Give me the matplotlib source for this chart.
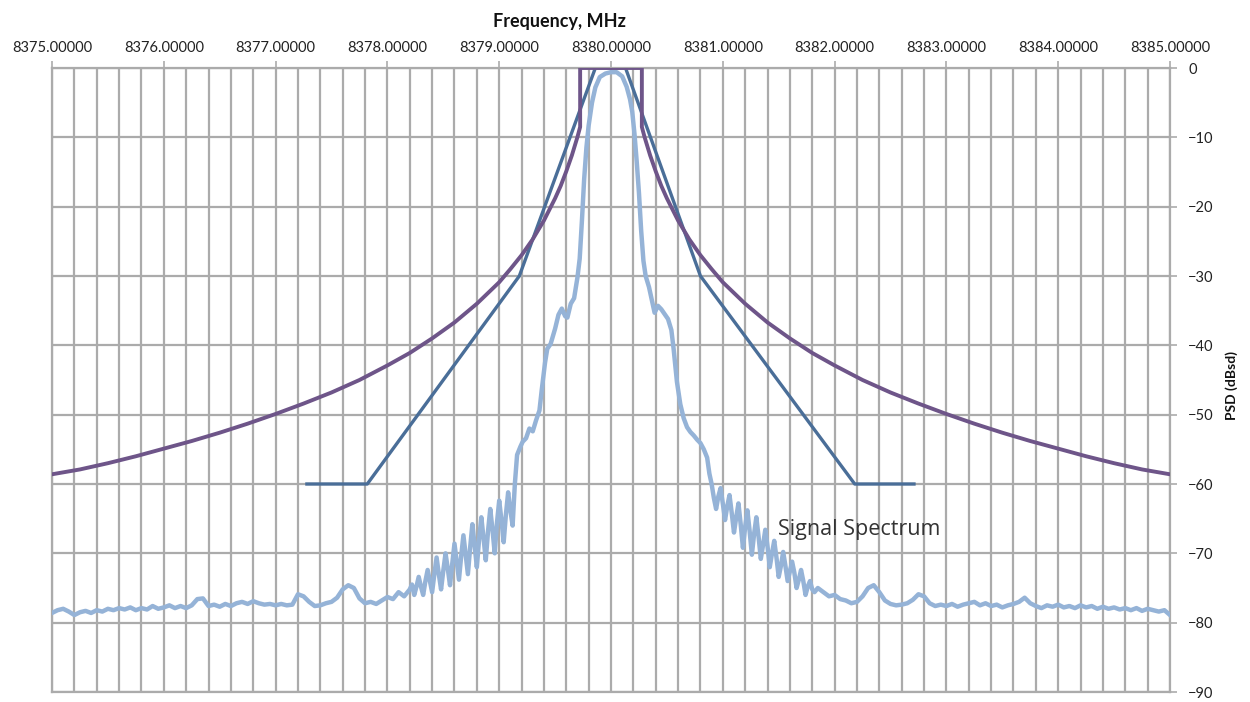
import numpy as np
import matplotlib
matplotlib.use("Agg")
import matplotlib.pyplot as plt
from matplotlib.ticker import MultipleLocator, FormatStrFormatter

plt.rcParams['font.family'] = ['Lato', 'DejaVu Sans']

# ---------------- data ----------------
center_freq = 8380.0

# purple spectral mask (one side, offsets from centre in MHz)
purple_offsets = [0.276, 0.276, 0.30, 0.35, 0.40, 0.45, 0.50, 0.60, 0.70, 0.80, 0.90, 1.00,
                  1.20, 1.40, 1.60, 1.80, 2.00, 2.25, 2.50, 2.75, 3.00, 3.25, 3.50,
                  3.75, 4.00, 4.25, 4.50, 4.75, 5.00]
purple_db = [0.0, -8.5, -9.95, -12.6, -14.9, -17.0, -18.8, -22.0, -24.7, -27.0, -29.0, -30.9,
             -34.0, -36.7, -39.0, -41.1, -42.9, -45.0, -46.8, -48.4, -49.9, -51.3, -52.6,
             -53.8, -54.9, -56.0, -57.0, -57.9, -58.6]

# dark blue mask
blue_offsets = [-2.72, -2.18, -0.82, -0.14, 0.13, 0.80, 2.18, 2.71]
blue_db = [-60, -60, -30, 0, 0, -30, -60, -60]

# signal spectrum
sigA_freq = np.round(np.arange(8375.00, 8378.201, 0.05), 3)
sigA_db = [-78.6, -78.2, -78.0, -78.4, -78.9, -78.5, -78.3, -78.6, -78.2, -78.4,
           -78.0, -78.2, -77.9, -78.1, -77.8, -78.2, -77.9, -78.1, -77.6, -78.0,
           -77.8, -77.5, -77.9, -77.6, -77.9, -77.5, -76.6, -76.5, -77.6, -77.4,
           -77.7, -77.3, -77.6, -77.2, -77.0, -77.3, -76.9, -77.2, -77.4, -77.3,
           -77.5, -77.3, -77.5, -77.4, -75.9, -76.2, -77.0, -77.6, -77.5, -77.2,
           -77.0, -76.4, -75.2, -74.6, -75.0, -76.5, -77.2, -77.0, -77.3, -76.8,
           -76.3, -76.6, -75.6, -76.2, -75.2]
sigB_freq = np.round(np.arange(8378.22, 8379.141, 0.02), 3)
sigB_db = [-74.5, -76.0, -74.8, -73.4, -74.8, -76.0, -74.0, -72.4, -74.0, -75.6,
           -73.0, -70.6, -73.0, -75.2, -72.5, -70.0, -72.2, -74.6, -71.5, -68.6,
           -71.2, -73.8, -70.4, -67.4, -70.2, -73.0, -69.2, -65.8, -68.8, -72.0,
           -68.0, -64.8, -67.8, -71.0, -66.8, -63.6, -66.6, -70.0, -65.6, -62.4,
           -65.2, -68.4, -64.4, -61.2, -63.8, -66.0, -60.0]
sigC_freq = [8379.16, 8379.19, 8379.21, 8379.24, 8379.27, 8379.30, 8379.33, 8379.36,
             8379.38, 8379.41, 8379.43, 8379.46, 8379.50, 8379.53, 8379.56, 8379.59,
             8379.61, 8379.64, 8379.67, 8379.70, 8379.72, 8379.74, 8379.76, 8379.78,
             8379.80, 8379.83, 8379.86, 8379.90, 8379.95, 8380.00, 8380.05, 8380.10,
             8380.14, 8380.17, 8380.19, 8380.21, 8380.23, 8380.25, 8380.27, 8380.29,
             8380.31, 8380.34, 8380.37, 8380.39, 8380.42, 8380.45, 8380.48, 8380.51,
             8380.54, 8380.56, 8380.59, 8380.62, 8380.65, 8380.68, 8380.71, 8380.74,
             8380.77, 8380.80, 8380.83, 8380.86, 8380.88]
sigC_db = [-55.8, -54.6, -53.9, -53.4, -52.0, -52.4, -50.8, -49.4,
           -46.5, -42.5, -40.5, -39.8, -37.6, -35.6, -34.7, -35.8,
           -36.0, -34.0, -33.2, -30.2, -27.5, -22.0, -16.0, -11.5,
           -8.3, -5.0, -2.8, -1.3, -0.8, -0.6, -0.6, -1.2,
           -2.7, -4.5, -6.3, -9.5, -13.5, -18.0, -23.5, -27.8,
           -30.0, -31.6, -33.8, -35.3, -34.3, -34.8, -35.5, -36.2,
           -37.8, -40.5, -45.3, -48.5, -50.5, -51.8, -52.5, -53.0,
           -53.6, -54.1, -55.0, -56.2, -58.5]
sigD_freq = np.round(np.arange(8380.90, 8381.821, 0.02), 3)
sigD_db = [-60.0, -62.0, -63.6, -61.8, -60.6, -62.8, -65.2, -63.2, -61.6, -64.2,
           -67.0, -64.8, -62.8, -65.8, -69.2, -66.2, -63.8, -66.8, -70.2, -67.2,
           -64.8, -67.6, -70.8, -68.8, -66.6, -69.0, -72.0, -70.0, -68.2, -70.6,
           -73.4, -71.8, -69.8, -71.8, -74.0, -72.6, -71.2, -72.8, -75.0, -73.8,
           -72.4, -74.0, -76.0, -74.8, -74.0, -75.2, -75.6]
sigE_freq = np.round(np.arange(8381.85, 8385.001, 0.05), 3)
sigE_db = [-75.0, -75.6, -76.2, -76.0, -76.6, -76.8, -77.2, -77.0, -76.2, -75.0,
           -74.6, -75.6, -76.8, -77.3, -77.5, -77.4, -77.2, -76.7, -75.9, -76.2,
           -77.2, -77.6, -77.4, -77.6, -77.3, -77.7, -77.4, -77.2, -77.0, -77.5,
           -77.2, -77.6, -77.4, -77.8, -77.5, -77.3, -77.0, -76.4, -77.2, -77.6,
           -77.9, -77.5, -77.7, -77.4, -77.8, -77.6, -77.9, -77.5, -77.8, -77.6,
           -78.0, -77.7, -78.0, -77.8, -78.1, -77.9, -78.2, -77.9, -78.3, -78.0,
           -78.2, -78.4, -78.2, -78.9]

x_ticks = [8375, 8376, 8377, 8378, 8379, 8380, 8381, 8382, 8383, 8384, 8385]
y_ticks = [0, -10, -20, -30, -40, -50, -60, -70, -80, -90]

# ---------------- build curves ----------------
po = np.array(purple_offsets)
pd_ = np.array(purple_db)
purple_x = np.concatenate([center_freq - po[::-1], center_freq + po])
purple_y = np.concatenate([pd_[::-1], pd_])
blue_x = center_freq + np.array(blue_offsets)
blue_y = np.array(blue_db)
sig_x = np.concatenate([sigA_freq, sigB_freq, sigC_freq, sigD_freq, sigE_freq])
sig_y = np.concatenate([sigA_db, sigB_db, sigC_db, sigD_db, sigE_db])

# ---------------- figure ----------------
fig = plt.figure(figsize=(12.5, 7.02), dpi=100)
ax = fig.add_axes([52 / 1250, 1 - 692 / 702, (1170 - 52) / 1250, (692 - 68) / 702])

grid_c = '#ABABAB'
ax.plot(sig_x, sig_y, color='#95B3D7', lw=3.2, zorder=3, solid_joinstyle='round')
ax.plot(blue_x, blue_y, color='#4A6E98', lw=2.4, zorder=4)
ax.plot(purple_x, purple_y, color='#6E5589', lw=2.8, zorder=5)

ax.set_xlim(8375, 8385)
ax.set_ylim(-90, 0)
ax.xaxis.set_major_locator(plt.FixedLocator(x_ticks))
ax.xaxis.set_minor_locator(MultipleLocator(0.2))
ax.xaxis.set_major_formatter(FormatStrFormatter('%.5f'))
ax.yaxis.set_major_locator(plt.FixedLocator(y_ticks))
ax.xaxis.tick_top()
ax.yaxis.tick_right()
ax.tick_params(axis='x', which='major', direction='out', length=5, width=1.2,
               color=grid_c, labelsize=10.5, pad=4, labelcolor='#222222')
ax.tick_params(axis='x', which='minor', length=0)
ax.tick_params(axis='y', which='major', direction='out', length=5, width=1.2,
               color=grid_c, labelsize=10.5, pad=8, labelcolor='#222222')
ax.grid(True, which='both', axis='x', color=grid_c, lw=1.6)
ax.grid(True, which='major', axis='y', color=grid_c, lw=1.6)
for s in ax.spines.values():
    s.set_color(grid_c)
    s.set_linewidth(1.6)

ax.text(8381.49, -66.5, 'Signal Spectrum', fontsize=15.5, color='#333333',
        ha='left', va='center', family=['Open Sans', 'DejaVu Sans'], zorder=6)

fig.text(559 / 1250, 1 - 22 / 702, 'Frequency, MHz', fontsize=13, fontweight='bold',
         ha='center', va='center', color='#111111')
fig.text(1232 / 1250, 1 - 385 / 702, 'PSD (dBsd)', fontsize=10, fontweight='bold',
         rotation=90, ha='center', va='center', color='#111111')

fig.savefig('out.png', dpi=100, facecolor='white')
